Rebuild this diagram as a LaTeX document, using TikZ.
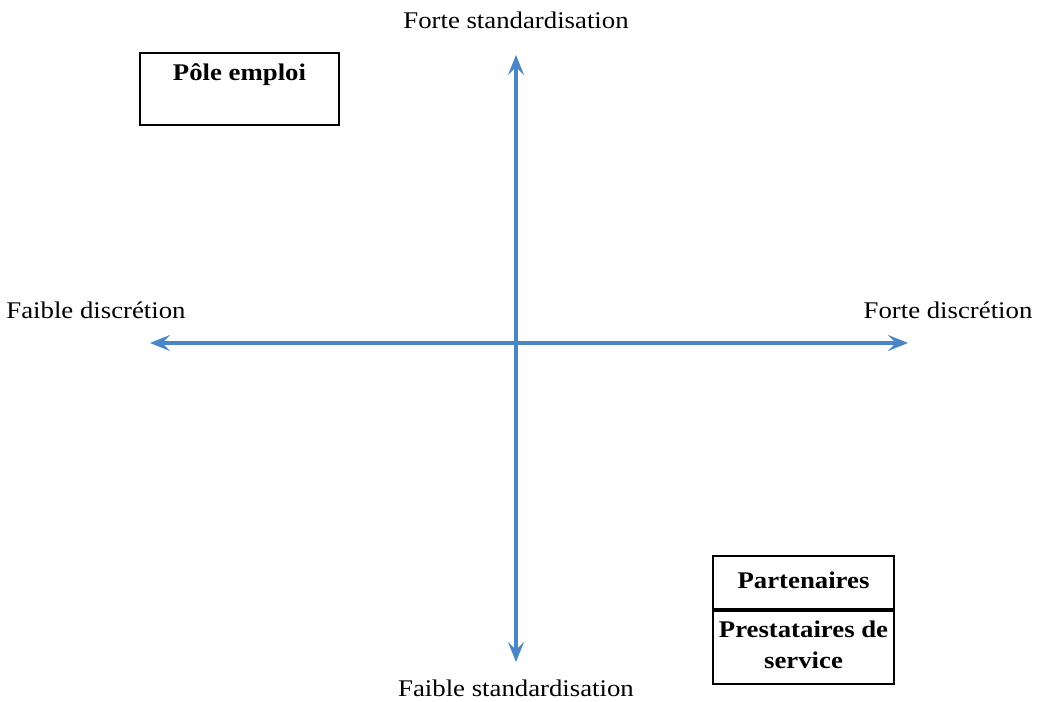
\documentclass[tikz,border=0pt]{standalone}
\usepackage{fontspec}
\setmainfont{Liberation Serif}[FakeStretch=1.12]
\usetikzlibrary{arrows.meta,positioning}

\definecolor{bleuaxe}{RGB}{74,134,198}
\tikzstyle{axe}=[draw=bleuaxe,line width=1mm,{Stealth[length=5mm,width=4mm,inset=2mm]}-{Stealth[length=5mm,width=4mm,inset=2mm]}]
\tikzstyle{texto}=[font=\fontsize{17}{21}\selectfont]
\tikzstyle{gras}=[font=\fontsize{17}{22}\selectfont\bfseries,align=center]
\tikzstyle{boite}=[draw,line width=1.2pt,rectangle,inner sep=0pt]

\begin{document}
\begin{tikzpicture}
  \useasboundingbox (0,0) rectangle (26.1,17.525);

  % axes
  \coordinate (o) at (12.9,8.95);
  \coordinate (haut) at (12.9,16.15);
  \coordinate (bas) at (12.9,0.975);
  \coordinate (gauche) at (3.75,8.95);
  \coordinate (droite) at (22.7,8.95);

  \draw [axe] (bas) -- (haut);
  \draw [axe] (gauche) -- (droite);

  \node [texto] (fs) at (12.9,17.025) {Forte standardisation};
  \node [texto] (fbs) at (12.9,0.325) {Faible standardisation};
  \node [texto] (fd) at (2.4,9.775) {Faible discrétion};
  \node [texto] (fod) at (23.7,9.775) {Forte discrétion};

  % Pole emploi
  \node [boite,minimum width=4.975cm,minimum height=1.8cm] (pole) at (5.9875,15.3) {};
  \node [gras] (poletxt) at (5.9875,15.65) {Pôle emploi};

  % Partenaires / prestataires
  \node [boite,minimum width=4.525cm,minimum height=1.325cm] (part) at (20.0875,2.9625) {};
  \node [boite,minimum width=4.525cm,minimum height=1.825cm,below=0pt of part] (prest) {};
  \node [gras] (parttxt) at (20.0875,3.025) {Partenaires};
  \node [gras] (presttxt) at (20.0875,1.41) {Prestataires de\\service};

\end{tikzpicture}
\end{document}
